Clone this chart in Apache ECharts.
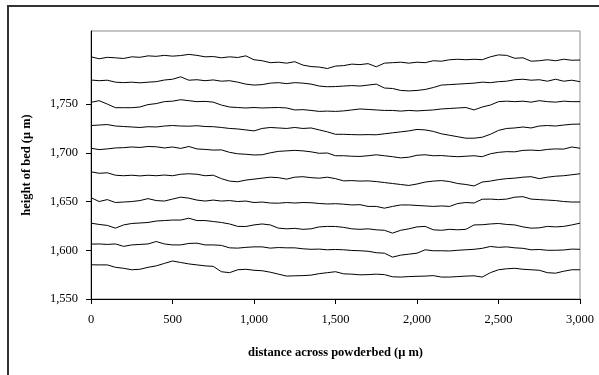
<!DOCTYPE html>
<html>
<head>
<meta charset="utf-8">
<script src="https://cdn.jsdelivr.net/npm/echarts@6/dist/echarts.min.js"></script>
<style>
  html, body { margin: 0; padding: 0; background: #fff; }
  #chart { width: 599px; height: 375px; }
</style>
</head>
<body>
<div id="chart"></div>
<script>
// distance sampling step (µm) along the powder bed
const xStep = 50;

// height of bed (µm) for each of the 10 scanned profiles, top to bottom
const profile1 = [1798.5,1796.5,1798,1797.5,1796.8,1798.5,1798,1799.5,1799,1800,1799.2,1799.8,1801,1800,1798.5,1798.8,1797.5,1798.5,1797.8,1799.5,1795.5,1794.5,1792.5,1793,1792,1793.5,1790,1788.5,1788,1786.5,1789,1789.5,1791,1790.5,1791.5,1788.3,1792,1792.5,1793,1792,1793,1792.5,1794.5,1794,1795.5,1796,1795.5,1796,1795.5,1798.5,1800.5,1800,1797,1797.5,1794,1794.5,1795.5,1794.5,1796,1795,1795.2];
const profile2 = [1774.7,1774,1774.5,1772.5,1772,1772.5,1771.8,1772.5,1773,1774.7,1775.5,1778,1774.5,1775,1774,1774.8,1773.5,1774,1772.5,1770.5,1769.5,1770,1771.5,1772,1771,1772,1771.5,1770.5,1768.5,1767.8,1768,1768.5,1769,1768.5,1769.5,1770.5,1766.5,1766,1764,1763.5,1764,1765,1767,1769.5,1770,1770.5,1771,1771.5,1772.5,1772,1773,1773.5,1775,1775.5,1774.5,1775,1773.5,1775.5,1773.5,1774.5,1773];
const profile3 = [1751.8,1753.5,1750,1746.3,1746.3,1746.3,1747,1749.5,1750.5,1752.5,1753,1754.5,1753.5,1752.5,1752.8,1752,1749,1747,1746.5,1746,1746.5,1746,1746.3,1746.5,1746,1744,1744.3,1743.5,1742.5,1742.8,1742.5,1743,1744,1745,1744.5,1744,1743.5,1743.5,1742.8,1743.5,1743,1743.5,1744,1745,1745.5,1746,1746.5,1744,1747,1749,1752.5,1753,1752.5,1753,1752,1753.5,1752.5,1752,1753,1752.5,1752.5];
const profile4 = [1728,1728.5,1729,1727.5,1727,1726.5,1726,1726.8,1726.5,1727.5,1728,1727.5,1727.3,1727.8,1727,1726.8,1726,1725,1724.5,1723.5,1722.5,1725,1726,1725.5,1725,1726,1725,1725.5,1723.5,1721.5,1719,1719,1718.7,1718.5,1718.7,1718.5,1719.5,1720.5,1721.5,1722.5,1724,1723.5,1722,1719.5,1718,1716.5,1715,1715,1716,1719,1723,1725,1725.5,1726.5,1725.5,1727.5,1728,1727.5,1728.5,1729.3,1729.5];
const profile5 = [1704.7,1703.3,1704,1705,1705.3,1706,1705.5,1706.5,1706.2,1705,1706,1704.5,1706.5,1704,1703.5,1702.8,1703,1700.5,1699,1698.5,1697.8,1698,1700,1701.5,1702,1702.5,1702,1701,1699.5,1699.8,1697,1697,1696.5,1696.3,1697,1698,1697,1696,1694.8,1695.5,1697.5,1698,1697,1697.2,1696.5,1696,1696.5,1697,1696,1699,1700.5,1701.2,1701,1702.5,1702.8,1702.3,1703.5,1704,1703.8,1706,1704.7];
const profile6 = [1680.5,1679,1679.5,1677,1676.5,1677,1676.3,1677,1676.5,1677.2,1676.5,1678,1678.5,1678,1676.5,1677,1673.5,1671,1670.3,1672,1673,1674,1675,1674.5,1673,1675,1675.5,1674.5,1674,1675,1673.5,1671.2,1671.5,1671,1671.2,1670.5,1669.5,1668.5,1667.5,1666.5,1668,1670,1671,1671.5,1670.5,1668.5,1667.5,1666,1670,1671,1672.5,1673.5,1674,1675,1675.5,1673.5,1675,1676,1676.5,1677.5,1678.5];
const profile7 = [1654,1650,1652,1649,1649.5,1650,1651,1653,1651,1650.5,1652.5,1654.5,1653.5,1651.5,1650.5,1651.5,1650.5,1651,1650,1650.5,1649,1649.5,1648.5,1648.3,1649,1648.5,1649,1648.8,1648,1647.5,1647.8,1647.3,1646.5,1646.8,1645,1645,1643.2,1645,1646.5,1646.5,1646,1645.5,1645,1645.5,1645,1648,1649,1648.5,1652.4,1652.5,1652,1652.5,1654.5,1655,1652.5,1652,1651.5,1651,1650,1649.5,1649.5];
const profile8 = [1627.8,1626.5,1625.5,1622.7,1626,1627.5,1628,1628.5,1630,1630.5,1631,1631,1632.9,1630.5,1630.5,1629.5,1628.5,1627,1624.5,1624.4,1626,1627,1626,1622.7,1622,1622.5,1621.5,1622,1624,1624.5,1624.4,1623.5,1622,1621.5,1622,1621,1620.5,1617.6,1620.5,1622,1624,1624.5,1621,1620.5,1621.5,1621,1621.5,1626,1626.2,1627,1627.5,1626.5,1626,1624,1622.7,1623,1624.5,1624,1624.5,1626,1627.8];
const profile9 = [1606.3,1606.5,1606,1606.5,1604,1605.5,1606,1606.5,1609,1606.5,1605.5,1605.5,1607,1607.3,1605.5,1605.5,1605,1602.5,1602.2,1603,1603.5,1603.5,1602.2,1602.8,1602.5,1602.5,1601.5,1601,1601.2,1600.5,1600.8,1600.5,1599.8,1599.5,1599,1597.5,1597,1593,1595,1596,1597,1600.5,1599.5,1599.5,1599.3,1600,1600.5,1601,1602,1603.9,1603,1603.5,1602.5,1602,1600.5,1600.8,1600,1600,1600.3,1601.2,1601];
const profile10 = [1585.1,1585,1585,1582.5,1581.5,1580,1580.5,1582.5,1584,1586.5,1589,1587.5,1586,1585,1584,1583.5,1578,1577,1580,1580.5,1579.5,1579,1577.5,1575.5,1573.5,1573.8,1574,1574.5,1576,1577,1578,1575.8,1575.5,1574.8,1575,1575.5,1575,1572.8,1572.5,1573,1573.3,1573.5,1574,1572.5,1572.5,1573,1573.5,1573.8,1572.5,1577,1580,1581,1581.5,1580.5,1580,1579.5,1577,1576.5,1578.5,1580,1580];

const profiles = [profile1, profile2, profile3, profile4, profile5, profile6, profile7, profile8, profile9, profile10];

// axis tick values
const yTicks = [1550, 1600, 1650, 1700, 1750, 1800];
const xTicks = [0, 500, 1000, 1500, 2000, 2500, 3000];

const serif = '"Liberation Serif", "DejaVu Serif", serif';

const series = profiles.map(function (p, k) {
  return {
    name: 'profile ' + (k + 1),
    type: 'line',
    data: p.map(function (v, i) { return [i * xStep, v]; }),
    showSymbol: false,
    symbol: 'none',
    lineStyle: { color: '#000', width: 1 },
    silent: true
  };
});

const chart = echarts.init(document.getElementById('chart'), null, { renderer: 'canvas' });
chart.setOption({
  animation: false,
  backgroundColor: '#fff',
  grid: {
    left: 91, top: 31, right: 19, bottom: 76,
    show: true, borderColor: '#8c8c8c', borderWidth: 1, backgroundColor: 'transparent'
  },
  xAxis: {
    type: 'value', min: 0, max: 3000, interval: 500,
    name: 'distance across powderbed (\u03bc m)',
    nameLocation: 'middle', nameGap: 47,
    nameTextStyle: { fontFamily: serif, fontWeight: 'bold', fontSize: 12.5, color: '#000' },
    axisLine: { show: true, onZero: false, lineStyle: { color: '#000', width: 1 } },
    axisTick: { show: true, inside: false, length: 5, lineStyle: { color: '#000' } },
    axisLabel: { fontFamily: serif, fontSize: 12.5, color: '#000', margin: 14 },
    splitLine: { show: false }
  },
  yAxis: {
    type: 'value', min: 1550, max: 1825, interval: 50,
    name: 'height of bed (\u03bc m)',
    nameLocation: 'middle', nameGap: 58, nameRotate: 90,
    nameTextStyle: { fontFamily: serif, fontWeight: 'bold', fontSize: 12.5, color: '#000' },
    axisLine: { show: true, onZero: false, lineStyle: { color: '#000', width: 1 } },
    axisTick: { show: true, inside: false, length: 5, lineStyle: { color: '#000' }, customValues: yTicks },
    axisLabel: { fontFamily: serif, fontSize: 12.5, color: '#000', margin: 13, customValues: yTicks, showMaxLabel: false },
    splitLine: { show: false }
  },
  graphic: [{
    type: 'rect',
    shape: { x: 8, y: 6, width: 600, height: 380 },
    style: { fill: 'none', stroke: '#333', lineWidth: 2 },
    silent: true
  }],
  series: series
});
</script>
</body>
</html>
